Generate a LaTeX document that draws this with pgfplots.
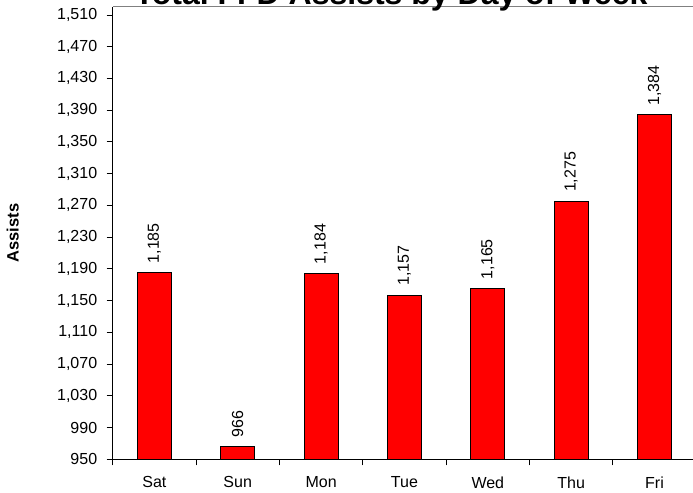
\documentclass[border=0pt]{standalone}
\usepackage{fontspec}
\setmainfont{Liberation Sans}
\newfontfamily\labfont{Liberation Sans}
\usepackage{pgfplots}
\pgfplotsset{compat=1.18}
\begin{document}
\begin{tikzpicture}
\begin{axis}[
  scale only axis, width=583.5bp, height=452.3bp,
  xmin=-0.5, xmax=6.5, ymin=950, ymax=1520,
  axis x line*=bottom, axis y line*=left,
  axis line style={-, black, line width=1bp},
  ybar, bar width=0.41,
  xtick={-0.5,0.5,...,6.5}, xticklabels={},
  extra x ticks={0,1,2,3,4,5,6},
  extra x tick labels={Sat,Sun,Mon,Tue,Wed,Thu,Fri},
  extra x tick style={major tick length=0pt},
  ytick={950,990,...,1510},
  tick align=outside, major tick length=6bp,
  tick style={black, line width=0.8bp},
  /pgf/number format/1000 sep={,},
  /pgf/number format/fixed,
  /pgf/number format/precision=0,
  /pgf/number format/assume math mode=true,
  ticklabel style={font=\fontsize{16bp}{19bp}\labfont},
  yticklabel style={xshift=-6bp},
  xticklabel style={yshift=-14bp},
  ylabel={Assists},
  every axis y label/.style={at={(rel axis cs:0,0.5)}, xshift=-100bp, rotate=90, anchor=center, font=\fontsize{16.5bp}{19bp}\labfont\bfseries},
  nodes near coords,
  nodes near coords style={rotate=90, anchor=west, inner xsep=9bp, font=\fontsize{16bp}{19bp}\labfont},
]
\addplot[fill={rgb,255:red,255;green,0;blue,0}, draw=black, line width=1bp]
  coordinates {(0,1185) (1,966) (2,1184) (3,1157) (4,1165) (5,1275) (6,1384)};
\coordinate (O) at (rel axis cs:0,0);
\coordinate (TL) at (rel axis cs:0,1);
\coordinate (TR) at (rel axis cs:1,1);
\coordinate (T) at (rel axis cs:0.477,1);
\end{axis}
\draw[gray, line width=1bp] (TL) -- (TR);
\node[anchor=base, yshift=2bp, font=\fontsize{32bp}{36bp}\labfont\bfseries] at (T) {Total FFD Assists by Day of Week};
\pgfresetboundingbox
\path (O) ++(-112.7bp,-33.7bp) rectangle ++(693bp,493bp);
\end{tikzpicture}
\end{document}
